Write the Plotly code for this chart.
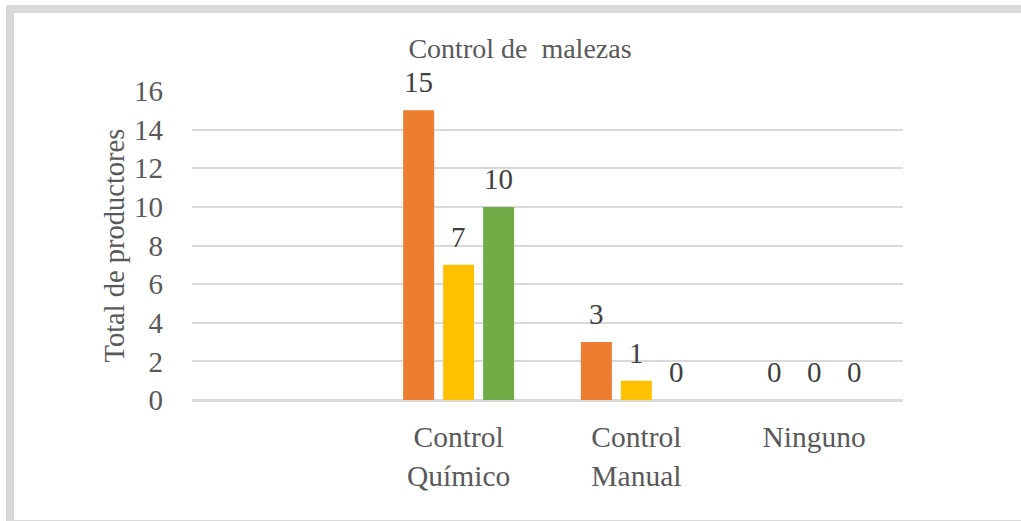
import plotly.graph_objects as go

categories = ["", "Control<br>Químico", "Control<br>Manual", "Ninguno"]
series_names = ["Serie 1", "Serie 2", "Serie 3"]
serie1 = [None, 15, 3, 0]
serie2 = [None, 7, 1, 0]
serie3 = [None, 10, 0, 0]
colors = ["#ED7D31", "#FFC000", "#70AD47"]
y_ticks = [0, 2, 4, 6, 8, 10, 12, 14, 16]

W, H = 1021, 521
L, R, T, B = 192, 118, 91, 121
FONT = "Liberation Serif"

fig = go.Figure()
all_series = [serie1, serie2, serie3]
for name, vals, col in zip(series_names, all_series, colors):
    fig.add_trace(go.Bar(
        x=list(range(len(categories))), y=vals, name=name,
        marker=dict(color=col, line=dict(width=0)),
        showlegend=False,
    ))

# data labels above bars
pitch = 40
for i, vals in enumerate(all_series):
    for j, v in enumerate(vals):
        if v is None:
            continue
        fig.add_annotation(
            x=j, y=v, xref="x", yref="y", text=str(v), showarrow=False,
            xshift=(i - 1) * pitch, yshift=10, yanchor="bottom",
            font=dict(family=FONT, size=29, color="#404040"),
        )

fig.add_annotation(
    x=(114 - L) / (W - L - R), y=0.5, xref="paper", yref="paper",
    text="Total de productores", textangle=-90, showarrow=False,
    xanchor="center", yanchor="middle",
    font=dict(family=FONT, size=28.5, color="#595959"),
)

# outer frame
fig.add_shape(
    type="rect", xref="paper", yref="paper",
    x0=(10 - L) / (W - L - R), x1=(1035 - L) / (W - L - R),
    y0=(H - B - 524) / (H - T - B), y1=(H - B - 9) / (H - T - B),
    line=dict(color="#D9D9D9", width=8), fillcolor="rgba(0,0,0,0)", layer="below",
)

fig.update_layout(
    width=W, height=H,
    margin=dict(l=L, r=R, t=T, b=B, autoexpand=False),
    paper_bgcolor="white", plot_bgcolor="white",
    barmode="group", bargap=0.325, bargroupgap=0.225,
    title=dict(text="Control de  malezas", x=520 / W, xanchor="center",
               y=1 - 48 / H, yanchor="middle",
               font=dict(family=FONT, size=28, color="#595959")),
    font=dict(family=FONT, color="#595959"),
    xaxis=dict(
        tickmode="array", tickvals=list(range(len(categories))), ticktext=categories,
        range=[-0.5, len(categories) - 0.5],
        showgrid=False, showline=True, linecolor="#D9D9D9", linewidth=1.5,
        ticks="outside", ticklen=0, ticklabelstandoff=10,
        tickfont=dict(family=FONT, size=29.5, color="#595959"),
        zeroline=False,
    ),
    yaxis=dict(
        range=[0, 16], tickmode="array", tickvals=y_ticks,
        showgrid=True, gridcolor="#D9D9D9", gridwidth=1.5,
        zeroline=True, zerolinecolor="#D9D9D9", zerolinewidth=1.5,
        showline=False, ticks="", ticklabelstandoff=28,
        tickfont=dict(family=FONT, size=29, color="#595959"),
    ),
)

fig.write_html("out.html", config={"displayModeBar": False},
               post_script="document.body.style.margin='0';")
